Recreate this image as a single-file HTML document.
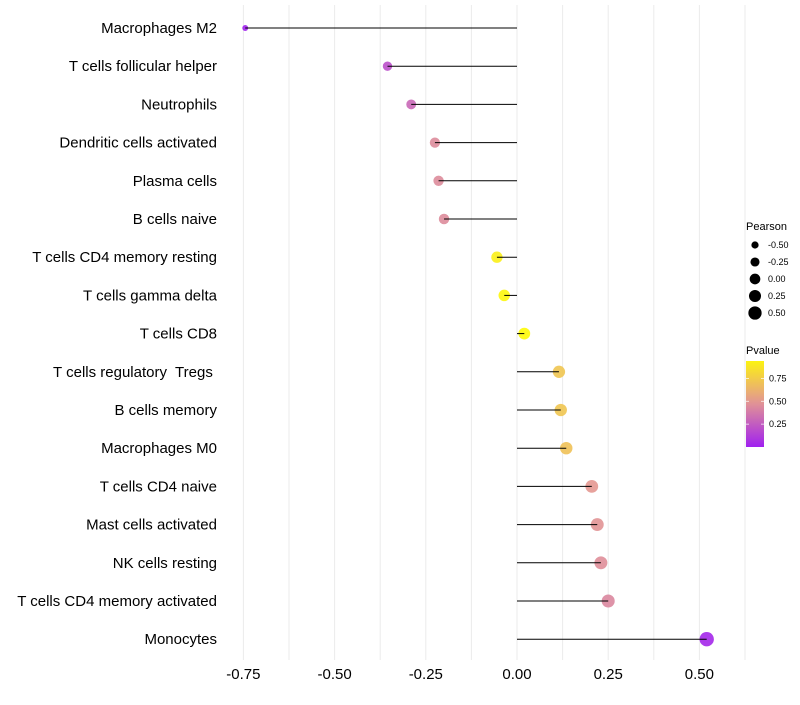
<!DOCTYPE html>
<html><head><meta charset="utf-8"><style>
body{margin:0;background:#fff;font-family:"Liberation Sans",sans-serif}
text{white-space:pre}
</style></head><body>
<svg id="chart" width="800" height="700" xmlns="http://www.w3.org/2000/svg">
<g id="grid"></g><g id="marks"></g><g id="ylabels"></g><g id="xlabels"></g>
<g id="legend"></g>
</svg>
<script>
const categories=["Macrophages M2","T cells follicular helper","Neutrophils","Dendritic cells activated","Plasma cells","B cells naive","T cells CD4 memory resting","T cells gamma delta","T cells CD8","T cells regulatory  Tregs ","B cells memory","Macrophages M0","T cells CD4 naive","Mast cells activated","NK cells resting","T cells CD4 memory activated","Monocytes"];
const pearson=[-0.745,-0.355,-0.29,-0.225,-0.215,-0.2,-0.055,-0.035,0.02,0.115,0.12,0.135,0.205,0.22,0.23,0.25,0.52];
const pvalues=[0.01,0.2,0.3,0.45,0.45,0.45,0.92,0.96,0.98,0.72,0.72,0.7,0.5,0.48,0.46,0.43,0.03];
const xTicks=[-0.75,-0.5,-0.25,0,0.25,0.5];
const xTickLabels=["-0.75","-0.50","-0.25","0.00","0.25","0.50"];
const sizeLegend=[-0.5,-0.25,0,0.25,0.5];
const sizeLegendLabels=["-0.50","-0.25","0.00","0.25","0.50"];
const pLegend=[0.25,0.5,0.75];

const NS="http://www.w3.org/2000/svg";
const x=v=>517+v*364.8;
const y=i=>28+i*38.2;
const r=v=>Math.sqrt(Math.max(4,34+34*v));
function lerp(a,b,t){return a+(b-a)*t}
const stops=[[0,[160,32,240]],[0.5,[228,152,145]],[1,[255,255,0]]];
function col(p){p=Math.max(0,Math.min(1,p));let s=p<0.5?0:1;const [p0,c0]=stops[s],[p1,c1]=stops[s+1];const t=(p-p0)/(p1-p0);
return `rgb(${c0.map((c,k)=>Math.round(lerp(c,c1[k],t))).join(",")})`;}
function el(t,a,parent){const e=document.createElementNS(NS,t);for(const k in a)e.setAttribute(k,a[k]);parent.appendChild(e);return e;}

const grid=document.getElementById('grid');
for(let v=-0.75;v<=0.626;v+=0.125){
 const g=el('line',{x1:x(v),x2:x(v),y1:5,y2:660,stroke:'#ebebeb','stroke-width':1},grid);
 
 
}
const marks=document.getElementById('marks');
const yl=document.getElementById('ylabels');
categories.forEach((c,i)=>{
 const d=el('circle',{cx:x(pearson[i]),cy:y(i),r:r(pearson[i]),fill:col(pvalues[i]),'fill-opacity':0.9},marks);
 
 
 const s=el('line',{x1:x(0),x2:x(pearson[i]),y1:y(i),y2:y(i),stroke:'#000','stroke-width':1},marks);
 
 
 const t=el('text',{x:217,y:y(i)+5,'text-anchor':'end','font-size':15,fill:'#000'},yl);
 t.textContent=c;
 
 
});
const xl=document.getElementById('xlabels');
xTicks.forEach((v,i)=>{
 const t=el('text',{x:x(v),y:679,'text-anchor':'middle','font-size':15,fill:'#000'},xl);
 t.textContent=xTickLabels[i];
 
 
});
const lg=document.getElementById('legend');
let t=el('text',{x:746,y:230,'font-size':11,fill:'#000'},lg);t.textContent='Pearson';


sizeLegend.forEach((v,i)=>{
 const cy=245+i*17;
 const c=el('circle',{cx:755,cy:cy,r:r(v)-0.5,fill:'#000'},lg);
 
 
 const tt=el('text',{x:768,y:cy+3,'font-size':9,fill:'#000'},lg);tt.textContent=sizeLegendLabels[i];
 
 
});
t=el('text',{x:746,y:354,'font-size':11,fill:'#000'},lg);t.textContent='Pvalue';


const defs=el('defs',{},lg);const gr=el('linearGradient',{id:'pg',x1:0,y1:1,x2:0,y2:0},defs);
for(let k=0;k<=10;k++){el('stop',{offset:k/10,'stop-color':col(k/10*0.94)},gr);}
const bar=el('rect',{x:746,y:361,width:18,height:86,fill:'url(#pg)'},lg);


pLegend.forEach(v=>{
 const yy=447-v*91.5;
 el('line',{x1:746,x2:749,y1:yy,y2:yy,stroke:'#fff','stroke-width':0.7},lg);
 el('line',{x1:761,x2:764,y1:yy,y2:yy,stroke:'#fff','stroke-width':0.7},lg);
 const tt=el('text',{x:769,y:yy+3,'font-size':9,fill:'#000'},lg);tt.textContent=v.toFixed(2);
 
 
});
</script>
</body></html>
